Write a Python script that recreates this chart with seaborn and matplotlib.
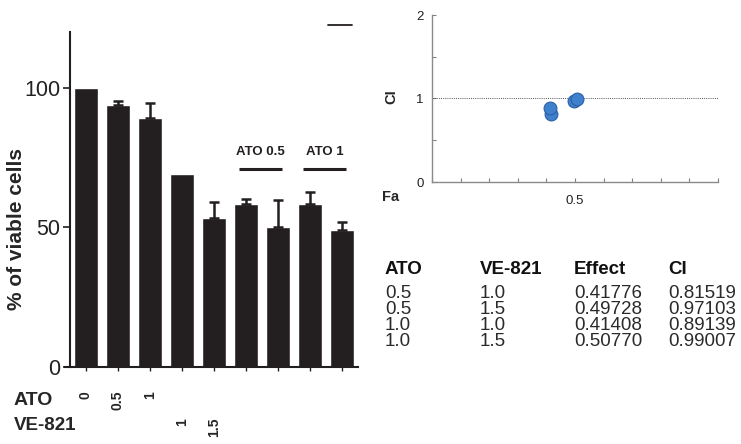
import matplotlib
matplotlib.use("Agg")
import matplotlib.pyplot as plt
import matplotlib.transforms as mtransforms
from matplotlib.lines import Line2D
import seaborn as sns
import pandas as pd

# ---------------- data ----------------
bar_ids = [f"g{i}" for i in range(9)]
bar_values = [100, 93.8, 89.1, 69.3, 53.5, 58.5, 50.3, 58.5, 49.2]
bar_errors = [0, 1.4, 5.6, 0, 5.6, 1.5, 9.6, 4.3, 2.8]
ato_labels = ["0", "0.5", "1", "", "", "", "", "", ""]
ve_labels = ["", "", "", "1", "1.5", "", "", "", ""]
group_labels = ["ATO 0.5", "ATO 1"]
group_first = [5, 7]
group_last = [6, 8]
y_ticks = [0, 50, 100]

fa_values = [0.41776, 0.49728, 0.41408, 0.50770]
ci_values = [0.81519, 0.97103, 0.89139, 0.99007]
table_ato = [0.5, 0.5, 1.0, 1.0]
table_ve = [1.0, 1.5, 1.0, 1.5]
table_headers = ["ATO", "VE-821", "Effect", "CI"]

# ---------------- style ----------------
sns.set_style("ticks")
plt.rcParams["font.family"] = ["Liberation Sans", "DejaVu Sans"]
W, H = 741, 444
fig = plt.figure(figsize=(W / 100, H / 100), dpi=100)
bar_color = "#231f20"

def fx(px):
    return px / W

def fy(py):
    return 1 - py / H

# ---------------- left bar chart ----------------
ax = fig.add_axes([fx(65), fy(367), fx(358) - fx(65), fy(32) - fy(367)])
df = pd.DataFrame({"id": bar_ids, "value": bar_values})
sns.barplot(data=df, x="id", y="value", order=bar_ids, color=bar_color,
            saturation=1, width=0.75, ax=ax, errorbar=None)
ex = [i for i, e in enumerate(bar_errors) if e > 0]
ey = [bar_values[i] for i in ex]
ee = [bar_errors[i] for i in ex]
ax.errorbar(ex, ey, yerr=[[0] * len(ex), ee], fmt="none", ecolor=bar_color,
            elinewidth=1.8, capsize=3.8, capthick=1.8, zorder=3)
ax.set_xlim(-0.656, 8.5)
ax.set_ylim(0, 120)
ax.set_yticks(y_ticks)
ax.set_xticks(range(9))
ax.set_xticklabels([""] * 9)
ax.set_xlabel("")
ax.set_ylabel("")
ax.tick_params(axis="y", length=5, width=1.2, pad=2, color=bar_color,
               labelsize=15.5, labelcolor="#222")
ax.tick_params(axis="x", length=3, width=1.0, color=bar_color)
for s in ["top", "right"]:
    ax.spines[s].set_visible(False)
ax.spines["left"].set_position(("data", -0.5))
ax.spines["left"].set_linewidth(1.5)
ax.spines["bottom"].set_linewidth(1.5)
ax.spines["left"].set_color(bar_color)
ax.spines["bottom"].set_color(bar_color)

trans = mtransforms.blended_transform_factory(ax.transData, ax.transAxes)
for i, lab in enumerate(ato_labels):
    if lab:
        ax.text(i, -0.0716, lab, rotation=90, ha="center", va="top",
                fontsize=10, fontweight="bold", transform=trans)
for i, lab in enumerate(ve_labels):
    if lab:
        ax.text(i, -0.152, lab, rotation=90, ha="center", va="top",
                fontsize=10, fontweight="bold", transform=trans)

for lab, a, b in zip(group_labels, group_first, group_last):
    c = (a + b) / 2 - 0.05
    ax.plot([c - 0.66, c + 0.66], [71.1, 71.1], color=bar_color, lw=2.2,
            solid_capstyle="butt", clip_on=False)
    ax.text(c, 77.1, lab, ha="center", va="center", fontsize=9.5,
            fontweight="bold", color=bar_color)

fig.text(fx(14), fy(400), "ATO", ha="left", va="center", fontsize=14,
         fontweight="bold")
fig.text(fx(14), fy(425), "VE-821", ha="left", va="center", fontsize=13.5,
         fontweight="bold")
fig.text(fx(17), fy(229), "% of viable cells", rotation=90, ha="center",
         va="center", fontsize=15, fontweight="bold")
fig.add_artist(Line2D([fx(328), fx(352)], [fy(25), fy(25)], color=bar_color,
                      lw=1.3, transform=fig.transFigure))

# ---------------- right scatter (CI vs Fa) ----------------
ax2 = fig.add_axes([fx(432), fy(182), fx(718) - fx(432), fy(15) - fy(182)])
ax2.axhline(1, color="#555555", lw=0.7, ls=(0, (1, 1.2)), zorder=1)
sns.scatterplot(x=fa_values, y=ci_values, s=85, color="#3f80cd",
                edgecolor="#2c5fa5", linewidth=0.8, ax=ax2, zorder=3)
ax2.set_xlim(0, 1)
ax2.set_ylim(0, 2)
ax2.set_xticks([i / 10 for i in range(11)])
ax2.set_xticklabels(["" if i != 5 else "0.5" for i in range(11)])
ax2.set_yticks([0, 0.5, 1, 1.5, 2])
ax2.set_yticklabels(["0", "", "1", "", "2"])
ax2.tick_params(axis="both", direction="in", length=3, width=0.8,
                color="#808080", labelsize=9.5, labelcolor="#222")
ax2.tick_params(axis="x", pad=9)
ax2.tick_params(axis="y", pad=6)
for s in ["top", "right"]:
    ax2.spines[s].set_visible(False)
for s in ["left", "bottom"]:
    ax2.spines[s].set_color("#8a8a8a")
    ax2.spines[s].set_linewidth(1.0)
fig.text(fx(382), fy(197), "Fa", ha="left", va="center", fontsize=10.5,
         fontweight="bold")
fig.text(fx(391), fy(97), "CI", rotation=90, ha="center", va="center",
         fontsize=10.5, fontweight="bold")

# ---------------- table ----------------
col_x = [385, 480, 574, 668]
header_y = 270
row_y0 = 293
row_dy = 16
for cx, h in zip(col_x, table_headers):
    fig.text(fx(cx), fy(header_y), h, ha="left", va="center", fontsize=13.5,
             fontweight="bold", color="#111")
for r in range(len(fa_values)):
    vals = [f"{table_ato[r]:.1f}", f"{table_ve[r]:.1f}",
            f"{fa_values[r]:.5f}", f"{ci_values[r]:.5f}"]
    for cx, v in zip(col_x, vals):
        fig.text(fx(cx), fy(row_y0 + r * row_dy), v, ha="left", va="center",
                 fontsize=13.5, color="#2a2a2a")

fig.savefig("out.png", dpi=100)
